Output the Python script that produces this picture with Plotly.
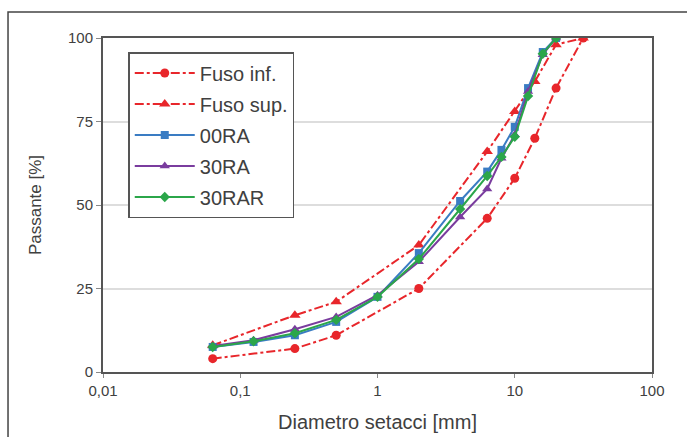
import plotly.graph_objects as go

# Data
fuso_x = [0.063, 0.25, 0.5, 2, 6.3, 10, 14, 20, 31.5]
fuso_inf = [4, 7, 11, 25, 46, 58, 70, 85, 100]
fuso_sup = [8, 17, 21, 38, 66, 78, 87, 98, 100]

sieve_x = [0.063, 0.125, 0.25, 0.5, 1, 2, 4, 6.3, 8, 10, 12.5, 16, 20]
ra00 = [7.5, 9, 11, 15, 22.5, 35.6, 51.2, 60, 66.5, 73.4, 85, 95.8, 100]
ra30 = [7.8, 9.5, 12.8, 16.5, 23, 33, 46.4, 54.8, 64, 71, 84, 95, 100]
rar30 = [7.5, 9.2, 11.6, 15.6, 22.5, 33.8, 48.8, 58.7, 64.4, 70.4, 82.6, 95.3, 100]

x_tickvals = [0.01, 0.1, 1, 10, 100]
x_ticktext = ["0,01", "0,1", "1", "10", "100"]
y_tickvals = [0, 25, 50, 75, 100]

RED = "#e8262b"
BLUE = "#3a7cc3"
PURPLE = "#7a3c9e"
GREEN = "#2ba64a"
TXT = "#404040"

fig = go.Figure()
fig.add_trace(go.Scatter(x=fuso_x, y=fuso_inf, name="Fuso inf.", mode="lines+markers",
                         line=dict(color=RED, width=2, dash="dashdot"),
                         marker=dict(symbol="circle", size=9, color=RED), legendgroup="a"))
fig.add_trace(go.Scatter(x=fuso_x, y=fuso_sup, name="Fuso sup.", mode="lines+markers",
                         line=dict(color=RED, width=2, dash="dashdot"),
                         marker=dict(symbol="triangle-up", size=10, color=RED), legendgroup="b"))
fig.add_trace(go.Scatter(x=sieve_x, y=ra00, name="00RA", mode="lines+markers",
                         line=dict(color=BLUE, width=2),
                         marker=dict(symbol="square", size=8, color=BLUE), legendgroup="c"))
fig.add_trace(go.Scatter(x=sieve_x, y=ra30, name="30RA", mode="lines+markers",
                         line=dict(color=PURPLE, width=2),
                         marker=dict(symbol="triangle-up", size=9, color=PURPLE), legendgroup="d"))
fig.add_trace(go.Scatter(x=sieve_x, y=rar30, name="30RAR", mode="lines+markers",
                         line=dict(color=GREEN, width=2),
                         marker=dict(symbol="diamond", size=8, color=GREEN), legendgroup="e"))

fig.update_layout(
    width=687, height=437,
    margin=dict(l=103, r=35, t=38, b=65),
    paper_bgcolor="white", plot_bgcolor="white",
    font=dict(family="Liberation Sans, Arial, sans-serif", color=TXT, size=15),
    legend=dict(x=0.046, y=0.958, xanchor="left", yanchor="top",
                bgcolor="white", bordercolor="#555555", borderwidth=1.5,
                font=dict(size=20, color=TXT), tracegroupgap=2, itemwidth=60,
                traceorder="grouped"),
    xaxis=dict(type="log", range=[-2, 2], tickvals=x_tickvals, ticktext=x_ticktext,
               showgrid=False, zeroline=False, showline=True, linecolor="#555555",
               linewidth=2, mirror=True, ticks="outside", ticklen=4, tickcolor="#888888",
               automargin=False,
               title=dict(text="Diametro setacci [mm]", font=dict(size=20, color=TXT), standoff=17),
               tickfont=dict(size=15, color=TXT)),
    yaxis=dict(range=[0, 100], tickvals=y_tickvals, showgrid=True, gridcolor="#dddddd",
               gridwidth=1.5, zeroline=False, showline=True, linecolor="#555555",
               linewidth=2, mirror=True, ticks="outside", ticklen=5, tickcolor="#888888",
               automargin=False,
               title=dict(text="Passante [%]", font=dict(size=17, color=TXT), standoff=22),
               tickfont=dict(size=15, color=TXT)),
)

# outer frame of the figure
fig.add_shape(type="rect", xref="paper", yref="paper",
              x0=-0.173, x1=1.2, y0=-0.3, y1=1.078,
              line=dict(color="#444444", width=1.5), fillcolor="rgba(0,0,0,0)", layer="below")

fig.write_html("out.html")
